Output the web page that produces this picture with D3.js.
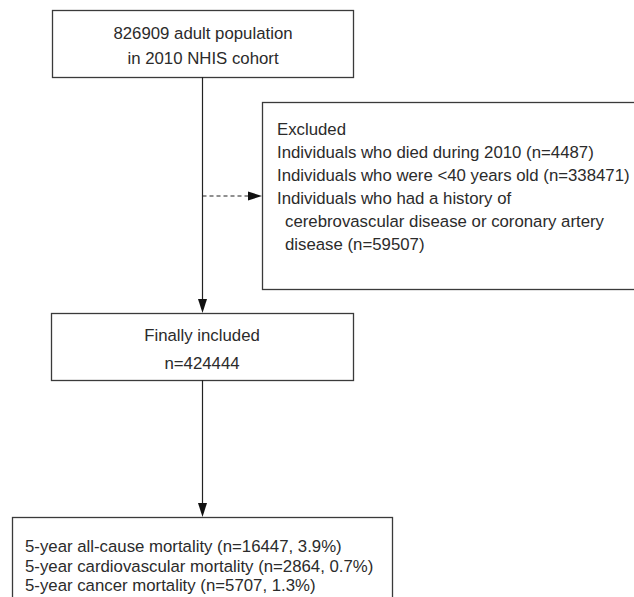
<!DOCTYPE html>
<html lang="en">
<head>
  <meta charset="UTF-8" />
  <title>Study flow chart</title>
  <script src="https://d3js.org/d3.v7.min.js"></script>
  <style>
    body { margin: 0; background: #fff; }
    svg { display: block; }
    .box { fill: #fff; stroke: #3a3a3a; stroke-width: 1.3; }
    .flow { stroke: #222; stroke-width: 1.2; fill: none; }
    .head { fill: #111; }
    text {
      font-family: "Liberation Sans", Arial, sans-serif;
      font-size: 16.8px;
      fill: #2b2b2b;
    }
  </style>
</head>
<body>
  <svg id="flow"></svg>
  <script>
    // box texts
    const sourceLines = ["826909 adult population", "in 2010 NHIS cohort"];
    const excludedLines = [
      "Excluded",
      "Individuals who died during 2010 (n=4487)",
      "Individuals who were <40 years old (n=338471)",
      "Individuals who had a history of",
      "  cerebrovascular disease or coronary artery",
      "  disease (n=59507)"
    ];
    const includedLines = ["Finally included", "n=424444"];
    const outcomeLines = [
      "5-year all-cause mortality (n=16447, 3.9%)",
      "5-year cardiovascular mortality (n=2864, 0.7%)",
      "5-year cancer mortality (n=5707, 1.3%)"
    ];

    const width = 634, height = 597;
    const svg = d3.select("#flow").attr("width", width).attr("height", height);

    // layout of boxes (pixel space)
    const boxes = [
      { id: "source",   x0: 52,  x1: 353, y0: 10,  y1: 77,  lines: sourceLines,   align: "middle", tx: 203, ty: 39,  dy: 25 },
      { id: "excluded", x0: 262, x1: 660, y0: 102, y1: 289, lines: excludedLines, align: "start",  tx: 277, ty: 135, dy: 23 },
      { id: "included", x0: 51,  x1: 353, y0: 313, y1: 380, lines: includedLines, align: "middle", tx: 202, ty: 341, dy: 28 },
      { id: "outcome",  x0: 12,  x1: 392, y0: 517, y1: 620, lines: outcomeLines,  align: "start",  tx: 25,  ty: 552, dy: 19.5 }
    ];

    const g = svg.append("g");

    const box = g.selectAll("g.node")
      .data(boxes)
      .join("g")
      .attr("class", "node");

    box.append("rect")
      .attr("class", "box")
      .attr("x", d => d.x0 + 0.5)
      .attr("y", d => d.y0 + 0.5)
      .attr("width", d => d.x1 - d.x0)
      .attr("height", d => d.y1 - d.y0);

    box.each(function (d) {
      d3.select(this).selectAll("text")
        .data(d.lines)
        .join("text")
        .attr("x", l => d.tx + (l.startsWith("  ") ? 8 : 0))
        .attr("y", (l, i) => d.ty + i * d.dy)
        .attr("text-anchor", d.align)
        .text(l => l.trim());
    });

    // arrows
    const cx = 202.5;
    const byId = Object.fromEntries(boxes.map(b => [b.id, b]));
    const arrows = [
      { x1: cx, y1: byId.source.y1, x2: cx, y2: byId.included.y0, dash: null },
      { x1: cx, y1: byId.included.y1, x2: cx, y2: byId.outcome.y0, dash: null },
      { x1: cx, y1: 196, x2: byId.excluded.x0, y2: 196, dash: "4,3" }
    ];

    const headLen = 14, headHalf = 4.5;
    arrows.forEach(a => {
      const ang = Math.atan2(a.y2 - a.y1, a.x2 - a.x1);
      const bx = a.x2 - headLen * Math.cos(ang), by = a.y2 - headLen * Math.sin(ang);
      g.append("line")
        .attr("class", "flow")
        .attr("x1", a.x1).attr("y1", a.y1)
        .attr("x2", bx).attr("y2", by)
        .attr("stroke-dasharray", a.dash);
      const px = -Math.sin(ang) * headHalf, py = Math.cos(ang) * headHalf;
      g.append("path")
        .attr("class", "head")
        .attr("d", d3.line()([[a.x2, a.y2], [bx + px, by + py], [bx - px, by - py]]) + "Z");
    });
  </script>
</body>
</html>
